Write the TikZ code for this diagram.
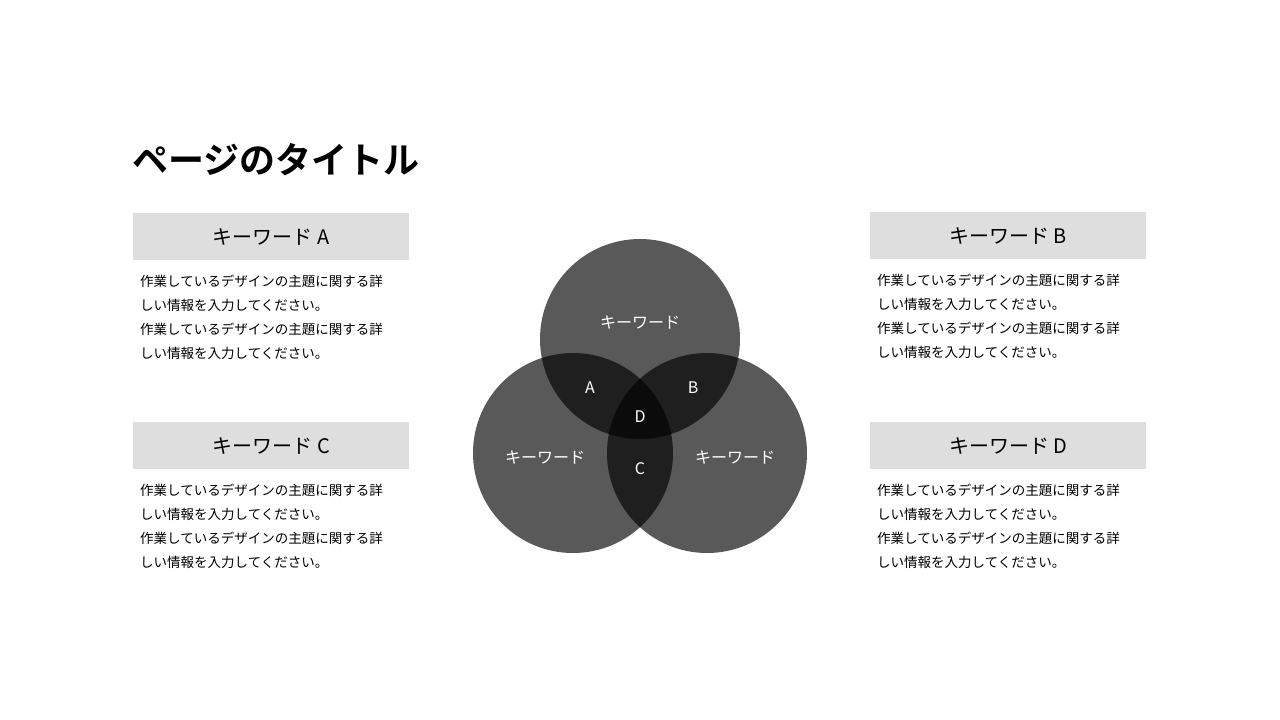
\documentclass[tikz,border=0pt]{standalone}
\usepackage{fontspec}
\setmainfont{Noto Sans CJK JP}
\newfontfamily\jpbold{Noto Sans CJK JP Bold}
\begin{document}
\begin{tikzpicture}[x=1pt,y=-1pt,
  hdr/.style={fill=black!13,minimum width=276pt,minimum height=47pt,inner sep=0pt,font=\fontsize{20}{24}\selectfont},
  body/.style={anchor=north west,align=left,inner sep=0pt,font=\fontsize{13.5}{24}\selectfont},
  venn/.style={fill=black,fill opacity=0.65},
  lbl/.style={text=white,font=\fontsize{16}{19}\selectfont}]
\useasboundingbox (0,0) rectangle (1280,720);
\node[anchor=west,inner sep=0pt,font=\fontsize{36}{40}\jpbold\selectfont] (title) at (132,160) {ページのタイトル};
\node[hdr,anchor=north west] (ha) at (133,213) {キーワード A};
\node[hdr,anchor=north west] (hb) at (870,212) {キーワード B};
\node[hdr,anchor=north west] (hc) at (133,422) {キーワード C};
\node[hdr,anchor=north west] (hd) at (870,422) {キーワード D};
\def\bt{作業しているデザインの主題に関する詳\\しい情報を入力してください。\\作業しているデザインの主題に関する詳\\しい情報を入力してください。}
\node[body] (ta) at (140,275) {\bt};
\node[body] (tb) at (877,274) {\bt};
\node[body] (tc) at (140,484) {\bt};
\node[body] (td) at (877,484) {\bt};
\fill[venn] (640,339) circle (100);
\fill[venn] (573,453) circle (100);
\fill[venn] (707,453) circle (100);
\node[lbl] (k1) at (640,323) {キーワード};
\node[lbl] (k2) at (545,458) {キーワード};
\node[lbl] (k3) at (735,458) {キーワード};
\node[lbl] (a) at (590,388) {A};
\node[lbl] (b) at (693,388) {B};
\node[lbl] (d) at (640,417) {D};
\node[lbl] (c) at (640,469) {C};
\end{tikzpicture}
\end{document}
